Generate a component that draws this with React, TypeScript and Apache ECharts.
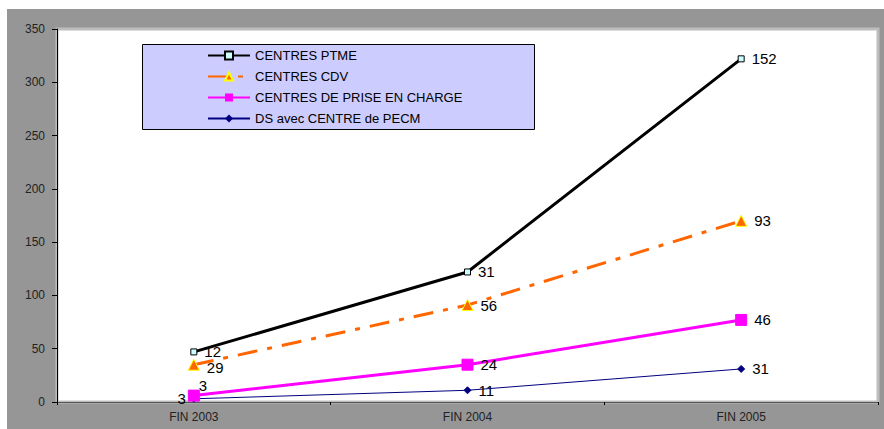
import React, { useEffect, useRef } from "react";
import * as echarts from "echarts";

const categories = ["FIN 2003", "FIN 2004", "FIN 2005"];
const ptme = [12, 31, 152];
const cdv = [29, 56, 93];
const priseEnCharge = [3, 24, 46];
const dsPecm = [3, 11, 31];
const yTicks = { min: 0, max: 350, interval: 50 };

const FONT = "Liberation Sans, Arial, sans-serif";

export default function App() {
  const ref = useRef<HTMLDivElement>(null);
  useEffect(() => {
    if (!ref.current) return;
    const chart = echarts.init(ref.current, undefined, { renderer: "svg" });
    const labelBase = {
      show: true,
      position: "right" as const,
      distance: 7,
      fontSize: 15,
      lineHeight: 15,
      color: "#000",
      fontFamily: FONT,
      formatter: (p: any) => String(p.value),
    };
    chart.setOption({
      animation: false,
      textStyle: { fontFamily: FONT },
      graphic: [
        {
          type: "rect",
          z: 1,
          shape: { x: 135.5, y: 35.5, width: 392, height: 85 },
          style: { fill: "#ccccff", stroke: "#000", lineWidth: 1 },
        },
      ],
      legend: {
        z: 10,
        orient: "vertical",
        left: 200,
        top: 40,
        padding: 0,
        itemWidth: 42,
        itemHeight: 10,
        itemGap: 8,
        textStyle: { fontSize: 13, color: "#000", fontFamily: FONT },
        data: [
          "CENTRES PTME",
          "CENTRES CDV",
          "CENTRES DE PRISE EN CHARGE",
          "DS avec CENTRE de PECM",
        ],
      },
      grid: {
        left: 50,
        top: 20,
        right: 6,
        bottom: 27,
        show: true,
        backgroundColor: "#fff",
        borderColor: "#bdbdbd",
        borderWidth: 3,
      },
      xAxis: {
        type: "category",
        data: categories,
        boundaryGap: true,
        axisLine: { lineStyle: { color: "#555", width: 1 } },
        axisTick: { show: true, length: 3, lineStyle: { color: "#000" } },
        axisLabel: { fontSize: 12, color: "#222", margin: 9, fontFamily: FONT },
        splitLine: { show: false },
      },
      yAxis: {
        type: "value",
        min: yTicks.min,
        max: yTicks.max,
        interval: yTicks.interval,
        axisLine: { show: true, lineStyle: { color: "#000", width: 1 } },
        axisTick: { show: true, length: 5, lineStyle: { color: "#000" } },
        axisLabel: { fontSize: 12, color: "#222", margin: 12, fontFamily: FONT },
        splitLine: { show: false },
      },
      series: [
        {
          name: "DS avec CENTRE de PECM",
          type: "line",
          stack: "total",
          data: dsPecm.map((v, i) =>
            i === 0 ? { value: v, label: { position: "left", distance: 4 } } : v
          ),
          symbol: "diamond",
          symbolSize: 7,
          showAllSymbol: true,
          lineStyle: { color: "#000080", width: 1 },
          itemStyle: { color: "#000080", borderColor: "#000080" },
          label: labelBase,
          z: 3,
        },
        {
          name: "CENTRES DE PRISE EN CHARGE",
          type: "line",
          stack: "total",
          data: priseEnCharge.map((v, i) =>
            i === 0
              ? { value: v, label: { position: "top", distance: 1, offset: [9, 4] } }
              : v
          ),
          symbol: "rect",
          symbolSize: 11,
          lineStyle: { color: "#ff00ff", width: 3 },
          itemStyle: { color: "#ff00ff", borderColor: "#ff00ff" },
          label: labelBase,
          z: 4,
        },
        {
          name: "CENTRES CDV",
          type: "line",
          stack: "total",
          data: cdv.map((v, i) =>
            i === 0 ? { value: v, label: { offset: [0, 3] } } : v
          ),
          symbol: "triangle",
          symbolSize: 11,
          lineStyle: { color: "#ff6600", width: 3, type: [20, 10, 5, 10] },
          itemStyle: { color: "#ff6600", borderColor: "#ffff00", borderWidth: 1 },
          label: labelBase,
          z: 5,
        },
        {
          name: "CENTRES PTME",
          type: "line",
          stack: "total",
          data: ptme.map((v, i) =>
            i === 0 ? { value: v, label: { offset: [0, 0] } } : v
          ),
          symbol: "rect",
          symbolSize: 6,
          lineStyle: { color: "#000", width: 3 },
          itemStyle: { color: "#ccffff", borderColor: "#000", borderWidth: 1 },
          label: labelBase,
          z: 6,
        },
      ],
    });
    return () => chart.dispose();
  }, []);
  return (
    <div
      style={{
        position: "absolute",
        left: 0,
        top: 0,
        width: 884,
        height: 429,
        background: "#fff",
        overflow: "hidden",
      }}
    >
      <div
        style={{
          position: "absolute",
          left: 7,
          top: 9,
          width: 877,
          height: 420,
          background: "#969696",
        }}
      >
        <div ref={ref} style={{ width: 877, height: 420 }} />
      </div>
    </div>
  );
}
